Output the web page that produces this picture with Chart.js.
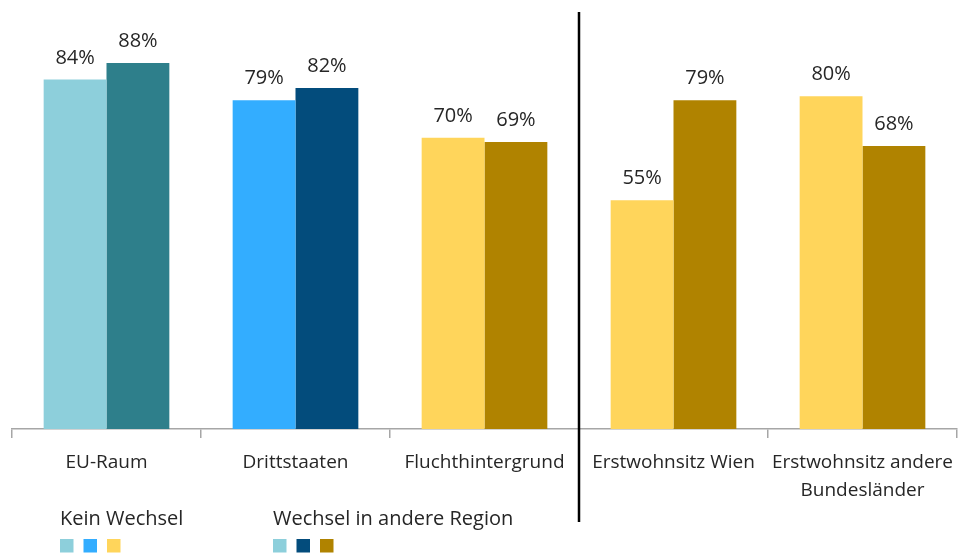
<!DOCTYPE html>
<html>
<head>
<meta charset="utf-8">
<script src="https://cdn.jsdelivr.net/npm/chart.js@4/dist/chart.umd.min.js"></script>
<style>
  html, body { margin: 0; padding: 0; background: #fff; }
  #wrap { width: 964px; height: 554px; }
</style>
</head>
<body>
<div id="wrap"><canvas id="CHART"></canvas></div>
<script>
const categories = ['EU-Raum', 'Drittstaaten', 'Fluchthintergrund', 'Erstwohnsitz Wien', ['Erstwohnsitz andere', 'Bundesländer']];
const keinWechsel = [84, 79, 70, 55, 80];
const wechsel = [88, 82, 69, 79, 68];
const keinColors = ['#8dcfdb', '#33adff', '#ffd55b', '#ffd55b', '#ffd55b'];
const wechselColors = ['#2e7f8b', '#034c7c', '#b08300', '#b08300', '#b08300'];
const legendNames = ['Kein Wechsel', 'Wechsel in andere Region'];
const legendSwatches = [['#8dcfdb', '#33adff', '#ffd55b'], ['#8dcfdb', '#034c7c', '#b08300']];

const textColor = '#262626';
const font = '20px "Open Sans"';

// labels over bars, separator line, custom legend
const extras = {
    id: 'extras',
    afterDatasetsDraw(chart) {
        const ctx = chart.ctx;
        ctx.save();
        ctx.font = font;
        ctx.fillStyle = textColor;
        ctx.textAlign = 'center';
        ctx.textBaseline = 'alphabetic';
        chart.data.datasets.forEach((ds, i) => {
            chart.getDatasetMeta(i).data.forEach((bar, j) => {
                ctx.fillText(ds.data[j] + '%', bar.x, bar.y - 16);
            });
        });

        // vertical separator
        const x = chart.scales.x;
        const sepX = (x.getPixelForValue(2) + x.getPixelForValue(3)) / 2;
        ctx.strokeStyle = '#000';
        ctx.lineWidth = 2.5;
        ctx.beginPath();
        ctx.moveTo(sepX, chart.chartArea.top - 1);
        ctx.lineTo(sepX, chart.height - 32);
        ctx.stroke();

        // legend
        ctx.textAlign = 'left';
        ctx.textBaseline = 'middle';
        const legX = [60, 273];
        legendNames.forEach((name, i) => {
            ctx.fillStyle = textColor;
            ctx.fillText(name, legX[i], 519);
            legendSwatches[i].forEach((c, k) => {
                ctx.fillStyle = c;
                ctx.fillRect(legX[i] + k * 23.5, 539, 13.5, 13.5);
            });
        });
        ctx.restore();
    }
};

new Chart(document.getElementById('CHART'), {
    type: 'bar',
    data: {
        labels: categories,
        datasets: [{
            label: legendNames[0],
            data: keinWechsel,
            backgroundColor: keinColors,
        }, {
            label: legendNames[1],
            data: wechsel,
            backgroundColor: wechselColors,
        }]
    },
    options: {
        responsive: true,
        maintainAspectRatio: false,
        animation: false,
        datasets: {
            bar: {
                categoryPercentage: 0.665,
                barPercentage: 1.0,
                borderWidth: 0
            }
        },
        layout: {
            padding: { left: 12, right: 7, top: 13, bottom: 0 }
        },
        scales: {
            y: {
                display: false,
                min: 0,
                max: 100
            },
            x: {
                afterFit: function(scale) { scale.height = 125; },
                border: { display: true, color: '#a6a6a6', width: 1.5 },
                grid: {
                    offset: true,
                    drawOnChartArea: false,
                    drawTicks: true,
                    tickLength: 9,
                    color: '#a6a6a6',
                    lineWidth: 1.5
                },
                ticks: {
                    color: textColor,
                    font: { family: 'Open Sans', size: 19, lineHeight: 1.5 },
                    padding: 10,
                    maxRotation: 0,
                    autoSkip: false
                }
            }
        },
        plugins: {
            legend: { display: false },
            tooltip: { enabled: false }
        }
    },
    plugins: [extras]
});
</script>
</body>
</html>
